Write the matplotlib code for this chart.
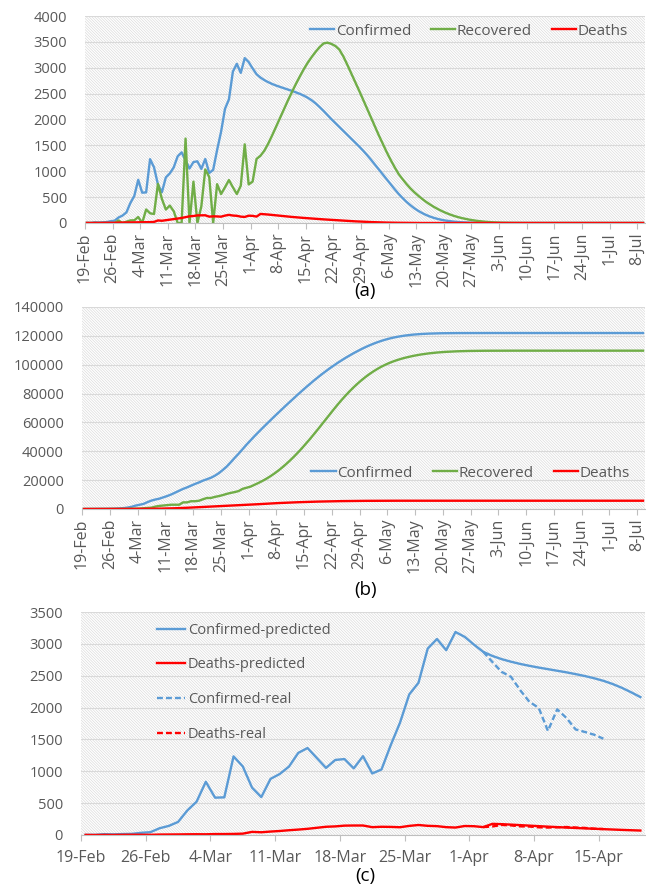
import numpy as np
import pandas as pd
import matplotlib.pyplot as plt
from matplotlib.patches import Rectangle

plt.rcParams['font.family'] = ['Open Sans', 'DejaVu Sans']
plt.rcParams['hatch.linewidth'] = 0.45

BLUE = '#5B9BD5'
GREEN = '#70AD47'
RED = '#FF0000'
GRID = '#d9d9d9'
TXT = '#595959'

start = '2020-02-19'

# daily counts, 19-Feb .. 1-Apr (observed)
confirmed_real = [2, 3, 13, 10, 15, 18, 34, 44, 106, 143, 205,
                  385, 523, 835, 586, 591, 1234, 1076, 743, 595, 881,
                  958, 1075, 1289, 1365, 1209, 1053, 1178, 1192, 1046, 1237,
                  966, 1028, 1411, 1762, 2206, 2389, 2926, 3076, 2901, 3186,
                  3110, 2988]
# 2-Apr .. 9-Jul (model)
confirmed_pred = [2875, 2810, 2760, 2720, 2685, 2655, 2628, 2603, 2578, 2553,
                  2525, 2495, 2460, 2420, 2370, 2310, 2240, 2165, 2085, 2005,
                  1930, 1855, 1780, 1705, 1630, 1555, 1480, 1400, 1315, 1225,
                  1130, 1035, 940, 845, 750, 655, 565, 485, 410, 345,
                  285, 235, 192, 155, 124, 98, 77, 60, 46, 35,
                  26, 19, 14, 10, 7, 5, 3, 2, 1] + [0] * 40

# 19-Feb .. 2-Apr (observed)
recovered_real = [0, 0, 0, 0, 0, 0, 0, 0, 49, 0, 24,
                  50, 52, 116, 0, 261, 187, 174, 756, 465, 260,
                  337, 228, 0, 0, 1631, 0, 799, 0, 321, 1035,
                  890, 0, 750, 560, 690, 830, 690, 560, 720, 1520,
                  745, 800, 1238]
# 3-Apr .. 9-Jul (model)
recovered_pred = [1300, 1400, 1540, 1700, 1870, 2040, 2210, 2375, 2535, 2690,
                  2835, 2975, 3100, 3210, 3310, 3400, 3470, 3485, 3460, 3420,
                  3350, 3220, 3060, 2895, 2730, 2560, 2390, 2215, 2040, 1865,
                  1695, 1530, 1370, 1220, 1080, 950, 850, 755, 670, 595,
                  528, 465, 408, 357, 310, 268, 230, 196, 166, 139,
                  116, 96, 79, 64, 51, 40, 31, 24, 18, 13, 9, 6, 4, 3, 2, 1] + [0] * 32

# 19-Feb .. 1-Apr (observed)
deaths_real = [2, 0, 2, 1, 3, 4, 4, 3, 7, 8, 9,
               11, 12, 11, 15, 15, 17, 21, 49, 43, 54,
               63, 75, 85, 97, 113, 129, 135, 147, 149, 149,
               123, 129, 127, 122, 143, 157, 144, 139, 123, 117,
               141, 138]
# 2-Apr .. 9-Jul (model)
deaths_pred = [124, 175, 170, 163, 155, 147, 139, 131, 124, 117, 110,
               104, 98, 92, 86, 80, 75, 70, 65, 60, 55,
               50, 45, 40, 36, 32, 28, 24, 21, 18, 15,
               12, 10, 8, 6, 5, 4, 3, 2, 1] + [0] * 59

# real values 2-Apr .. 15-Apr for panel (c)
confirmed_check = [2875, 2715, 2560, 2483, 2274, 2089, 1997, 1634, 1972, 1837,
                   1657, 1617, 1574, 1512]
deaths_check = [124, 134, 158, 151, 136, 133, 121, 117, 122, 125, 117, 111, 98, 94]

confirmed = np.array(confirmed_real + confirmed_pred)
recovered = np.array(recovered_real + recovered_pred)
deaths = np.array(deaths_real + deaths_pred)
n_long = len(confirmed)
n_short = 61
days = pd.date_range(start, periods=n_long)


def style(ax, n, ymax, ystep, rot):
    ax.set_xlim(0, n)
    ax.set_ylim(0, ymax)
    ax.set_yticks(np.arange(0, ymax + 1, ystep))
    ticks = np.arange(0, n, 7)
    ax.set_xticks(ticks)
    ax.set_xticklabels([f"{days[t].day}-{days[t]:%b}" for t in ticks], rotation=rot)
    ax.grid(axis='y', color=GRID, lw=0.8)
    ax.set_axisbelow(True)
    for s in ['left', 'right', 'top']:
        ax.spines[s].set_visible(False)
    ax.spines['bottom'].set_color('#bfbfbf')
    ax.tick_params(axis='y', length=0, labelsize=10.5, labelcolor=TXT, pad=13)
    ax.tick_params(axis='x', length=4, color='#bfbfbf', labelsize=11.5,
                   labelcolor=TXT, pad=3 if rot else 7)
    # light diagonal pattern fill of the plot area
    ax.add_patch(Rectangle((0, 0), 1, 1, transform=ax.transAxes, facecolor='white',
                           edgecolor='#d8d8d8', hatch='\\' * 12, lw=0, zorder=-1))


fig = plt.figure(figsize=(6.46, 8.9), dpi=100)
W, H = 646, 890


def box(l, r, t, b):
    return [l / W, 1 - b / H, (r - l) / W, (b - t) / H]


x = np.arange(n_long) + 0.5

# (a) daily
ax1 = fig.add_axes(box(85, 645, 16, 223))
ax1.plot(x, confirmed, color=BLUE, lw=1.7, label='Confirmed')
ax1.plot(x, recovered, color=GREEN, lw=1.7, label='Recovered')
ax1.plot(x, deaths, color=RED, lw=1.7, label='Deaths')
style(ax1, n_long, 4000, 500, 90)
ax1.legend(loc='center right', bbox_to_anchor=(0.97, 0.927), ncol=3, frameon=False,
           fontsize=11, labelcolor=TXT, handlelength=1.6, handletextpad=0.1,
           columnspacing=1.3, borderpad=0, borderaxespad=0)
fig.text(365 / W, 1 - 291 / H, '(a)', ha='center', va='center', fontsize=13.5)

# (b) cumulative
ax2 = fig.add_axes(box(82, 645, 307, 509))
ax2.plot(x, np.cumsum(confirmed), color=BLUE, lw=1.7, label='Confirmed')
ax2.plot(x, np.cumsum(recovered), color=GREEN, lw=1.7, label='Recovered')
ax2.plot(x, np.cumsum(deaths), color=RED, lw=1.7, label='Deaths')
style(ax2, n_long, 140000, 20000, 90)
ax2.legend(loc='center right', bbox_to_anchor=(0.973, 0.178), ncol=3, frameon=False,
           fontsize=11, labelcolor=TXT, handlelength=1.6, handletextpad=0.1,
           columnspacing=1.3, borderpad=0, borderaxespad=0)
fig.text(366 / W, 1 - 590 / H, '(b)', ha='center', va='center', fontsize=13.5)

# (c) predicted vs real
ax3 = fig.add_axes(box(81, 645, 612, 835))
xs = np.arange(n_short) + 0.5
ax3.plot(xs, confirmed[:n_short], color=BLUE, lw=1.7, label='Confirmed-predicted')
ax3.plot(xs, deaths[:n_short], color=RED, lw=1.7, label='Deaths-predicted')
xc = np.arange(len(confirmed_real), len(confirmed_real) + len(confirmed_check)) + 0.5
ax3.plot(xc, confirmed_check, color=BLUE, lw=1.7, ls=(0, (2.5, 1.3)), label='Confirmed-real')
ax3.plot(xc, deaths_check, color=RED, lw=1.7, ls=(0, (2.5, 1.3)), label='Deaths-real')
style(ax3, n_short, 3500, 500, 0)
ax3.legend(loc='upper left', bbox_to_anchor=(0.135, 0.952), frameon=False,
           fontsize=10.5, labelcolor=TXT, handlelength=1.9, handletextpad=0.2,
           labelspacing=1.35, borderpad=0, borderaxespad=0)
fig.text(365 / W, 1 - 876 / H, '(c)', ha='center', va='center', fontsize=13.5)

fig.savefig('out.png', dpi=100)
